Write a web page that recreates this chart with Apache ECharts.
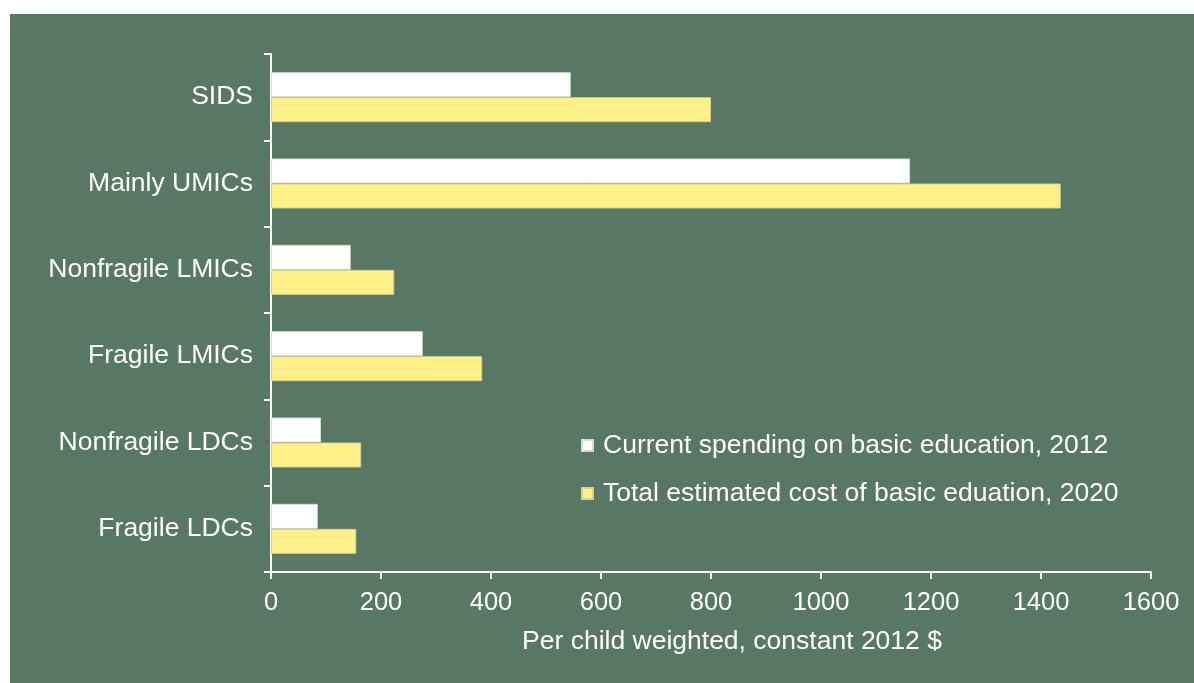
<!DOCTYPE html>
<html>
<head>
<meta charset="utf-8">
<script src="https://cdn.jsdelivr.net/npm/echarts@6/dist/echarts.min.js"></script>
<style>
  html, body { margin: 0; padding: 0; background: #ffffff; width: 1194px; height: 683px; overflow: hidden; }
  #chart { position: absolute; left: 10px; top: 14px; width: 1184px; height: 669px; background: #587865; }
</style>
</head>
<body>
<div id="chart"></div>
<script>
const categories = ['SIDS', 'Mainly UMICs', 'Nonfragile LMICs', 'Fragile LMICs', 'Nonfragile LDCs', 'Fragile LDCs'];
const currentSpending2012 = [545, 1162, 145, 276, 91, 85];
const totalCost2020 = [800, 1436, 224, 384, 164, 155];
const seriesNames = ['Current spending on basic education, 2012', 'Total estimated cost of basic eduation, 2020'];
const xTicks = [0, 200, 400, 600, 800, 1000, 1200, 1400, 1600];

const font = '"Liberation Sans", Arial, sans-serif';
const chart = echarts.init(document.getElementById('chart'), null, { renderer: 'canvas' });
chart.setOption({
  backgroundColor: 'transparent',
  animation: false,
  textStyle: { fontFamily: font },
  grid: { left: 261, right: 43, top: 40, bottom: 111, containLabel: false },
  legend: {
    orient: 'vertical',
    left: 566,
    top: 413,
    icon: 'rect',
    itemWidth: 11,
    itemHeight: 11,
    itemGap: 21,
    data: seriesNames,
    textStyle: { color: '#ffffff', fontSize: 26.5, fontFamily: font, padding: [0, 0, 0, 5] }
  },
  xAxis: {
    type: 'value',
    min: xTicks[0],
    max: xTicks[xTicks.length - 1],
    interval: 200,
    name: 'Per child weighted, constant 2012 $',
    nameLocation: 'middle',
    nameGap: 56,
    nameTextStyle: { color: '#ffffff', fontSize: 26.5, fontFamily: font, padding: [0, 0, 0, 42] },
    axisLine: { show: true, lineStyle: { color: '#ffffff', width: 2 } },
    axisTick: { show: true, length: 7, lineStyle: { color: '#ffffff', width: 2 } },
    axisLabel: { color: '#ffffff', fontSize: 25.5, fontFamily: font, margin: 18, formatter: v => String(v) },
    splitLine: { show: false }
  },
  yAxis: {
    type: 'category',
    inverse: true,
    data: categories,
    axisLine: { show: true, lineStyle: { color: '#ffffff', width: 2 } },
    axisTick: { show: true, length: 7, lineStyle: { color: '#ffffff', width: 2 } },
    axisLabel: { color: '#ffffff', fontSize: 26.5, fontFamily: font, margin: 18 }
  },
  series: [
    {
      name: seriesNames[0],
      type: 'bar',
      data: currentSpending2012,
      barWidth: 25,
      barGap: '0%',
      itemStyle: { color: '#ffffff', borderColor: '#d3dcd5', borderWidth: 1 }
    },
    {
      name: seriesNames[1],
      type: 'bar',
      data: totalCost2020,
      barWidth: 25,
      barGap: '0%',
      itemStyle: { color: '#fff18a', borderColor: '#d6cf93', borderWidth: 1 }
    }
  ]
});
</script>
</body>
</html>
